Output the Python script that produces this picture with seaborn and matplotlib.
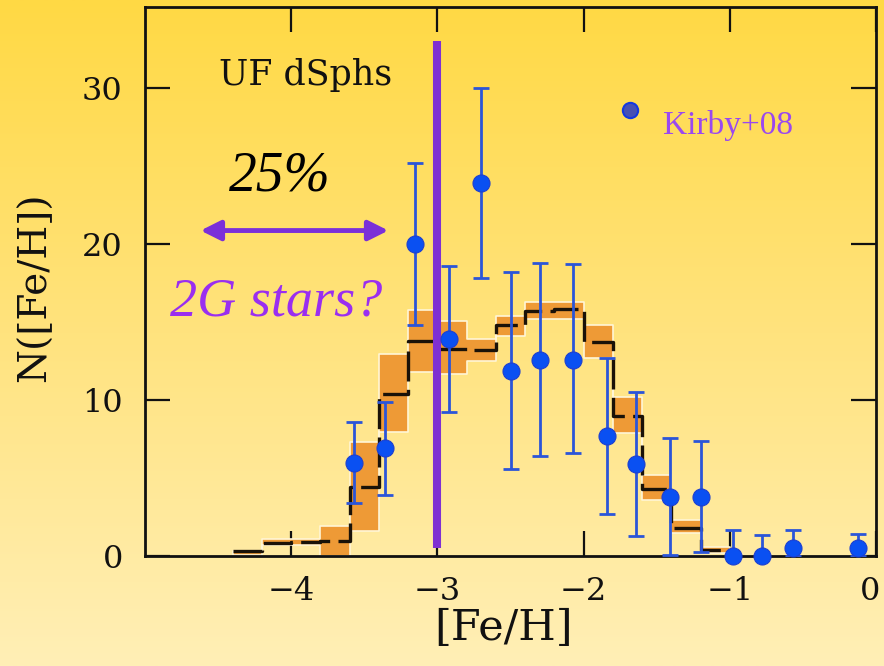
import numpy as np
import matplotlib
matplotlib.use("Agg")
import matplotlib.pyplot as plt
import seaborn as sns
from matplotlib.lines import Line2D
from matplotlib.legend_handler import HandlerLine2D
from matplotlib.colors import LinearSegmentedColormap
from matplotlib.transforms import ScaledTranslation

# Model metallicity distribution: 0.2-dex bins (left edges), median and spread
bin_left = [-4.4, -4.2, -4.0, -3.8, -3.6, -3.4, -3.2, -3.0, -2.8,
            -2.6, -2.4, -2.2, -2.0, -1.8, -1.6, -1.4, -1.2]
model_median = [0.3, 0.85, 0.9, 1.0, 4.4, 10.4, 13.8, 13.3, 13.2,
                14.8, 15.7, 15.85, 13.7, 9.0, 4.3, 1.8, 0.4]
model_low = [0.1, 0.7, 0.7, 0.0, 1.6, 7.95, 11.8, 11.65, 12.5,
             14.1, 15.2, 15.2, 12.7, 7.9, 3.6, 1.5, 0.18]
model_high = [0.35, 1.07, 1.07, 1.9, 7.3, 12.95, 15.8, 15.05, 13.9,
              15.4, 16.3, 16.3, 14.8, 10.2, 5.2, 2.3, 0.56]
bin_width = 0.2

# Observed ultra-faint dSph stars (Kirby+08)
obs_feh = [-3.57, -3.36, -3.15, -2.92, -2.70, -2.50, -2.30, -2.07,
           -1.84, -1.64, -1.41, -1.20, -0.98, -0.78, -0.57, -0.12]
obs_n = [6.0, 6.9, 20.0, 13.9, 23.9, 11.85, 12.6, 12.6,
         7.7, 5.9, 3.8, 3.8, 0.0, 0.0, 0.5, 0.55]
obs_upper = [8.6, 9.9, 25.2, 18.6, 30.0, 18.2, 18.8, 18.7,
             12.7, 10.5, 7.55, 7.35, 1.65, 1.35, 1.7, 1.4]
obs_lower = [3.4, 3.9, 14.8, 9.25, 17.85, 5.6, 6.4, 6.6,
             2.7, 1.3, 0.1, 0.25, 0.0, 0.0, 0.0, 0.0]

# Metallicity threshold and the arrow marking the metal-poor tail
feh_cut = -3.0
cut_span = (0.55, 33.0)
arrow_from, arrow_to, arrow_level = -4.62, -3.335, 20.87

x_ticks = [-4, -3, -2, -1, 0]
x_ticklabels = ["\u22124", "\u22123", "\u22122", "\u22121", "0"]
y_ticks = [0, 10, 20, 30]


class RaisedMarkerHandler(HandlerLine2D):
    """Legend handler that lifts the marker a little above the text centre."""

    def create_artists(self, legend, orig_handle, xdescent, ydescent,
                       width, height, fontsize, trans):
        artists = super().create_artists(legend, orig_handle, xdescent,
                                         ydescent, width, height, fontsize,
                                         trans)
        for a in artists:
            a.set_ydata(np.asarray(a.get_ydata()) + 0.5 * height)
        return artists


sns.set_theme(style="ticks")
plt.rcParams["font.family"] = ["DejaVu Serif"]
plt.rcParams["mathtext.default"] = "regular"

fig = plt.figure(figsize=(8.84, 6.66), dpi=100)

# soft yellow vertical gradient behind everything
bg = fig.add_axes([0, 0, 1, 1], zorder=-10)
grad = np.linspace(0, 1, 256).reshape(-1, 1)
cmap = LinearSegmentedColormap.from_list("bg", ["#FFD944", "#FFE37E", "#FFEFB6"])
bg.imshow(grad, aspect="auto", cmap=cmap, extent=[0, 1, 0, 1], origin="upper")
bg.set_axis_off()

ax = fig.add_axes([0.164, 0.165, 0.827, 0.8245])
ax.set_facecolor("none")

# model band and median step line
edges = bin_left + [bin_left[-1] + bin_width]
low_ext = model_low + [model_low[-1]]
high_ext = model_high + [model_high[-1]]
med_ext = model_median + [model_median[-1]]
ax.fill_between(edges, low_ext, high_ext, step="post", facecolor="#EE9A36",
                edgecolor="#FFF6D6", linewidth=1.2, zorder=2)
sns.lineplot(x=edges, y=med_ext, drawstyle="steps-post", estimator=None,
             color="#1a1208", linewidth=2.4, dashes=False, ax=ax, zorder=2.5)
ax.lines[-1].set_linestyle((0, (9, 2.5)))

# threshold line
ax.vlines(feh_cut, cut_span[0], cut_span[1], color="#7F30D2", linewidth=5.8, zorder=3)

# observed counts with asymmetric errors
n = np.array(obs_n)
yerr = [n - np.array(obs_lower), np.array(obs_upper) - n]
ax.errorbar(obs_feh, obs_n, yerr=yerr, fmt="none", ecolor="#2B55D8",
            elinewidth=2.0, capsize=6, capthick=2.0, zorder=4)
sns.scatterplot(x=obs_feh, y=obs_n, s=150, color="#0A50F2", edgecolor="#1D3FD0",
                linewidth=0.8, ax=ax, zorder=5, clip_on=False)

ax.set_xlim(-5.0, 0.0)
ax.set_ylim(0, 35.2)
ax.set_xticks(x_ticks)
ax.set_xticklabels(x_ticklabels)
ax.set_yticks(y_ticks)
ax.tick_params(direction="in", length=18, width=1.6, top=True, right=True,
               labelsize=23, colors="#111111")
ax.tick_params(axis="x", pad=14)
ax.tick_params(axis="y", pad=16)
for s in ax.spines.values():
    s.set_linewidth(2.0)
    s.set_color("#111111")

# keep the "0" label inside the canvas
last = ax.get_xticklabels()[-1]
last.set_transform(last.get_transform() +
                   ScaledTranslation(-4 / 72, 0, fig.dpi_scale_trans))

ax.set_xlabel("[Fe/H]", fontsize=31, color="#111111")
ax.set_ylabel("N([Fe/H])", fontsize=28, color="#111111")
ax.xaxis.set_label_coords(0.49, -0.092)
ax.yaxis.set_label_coords(-0.125, 0.49)

# annotations
ax.text(0.101, 0.876, "UF dSphs", transform=ax.transAxes, fontsize=25,
        ha="left", va="center", color="#111111")
ax.text(0.185, 0.691, "25%", transform=ax.transAxes, fontsize=40,
        family="Liberation Serif", style="italic", ha="center", va="center",
        color="black")
ax.text(0.179, 0.463, "2G stars?", transform=ax.transAxes, fontsize=39,
        family="Liberation Serif", style="italic", ha="center", va="center",
        color="#9A2EF0")
ax.annotate("", xy=(arrow_to, arrow_level), xytext=(arrow_from, arrow_level),
            arrowprops=dict(arrowstyle="<|-|>,head_length=0.8,head_width=0.4",
                            color="#7B30D8", lw=3.5, mutation_scale=15,
                            shrinkA=0, shrinkB=0), zorder=3)

handle = Line2D([], [], marker="o", linestyle="none", markersize=11,
                markerfacecolor="#4650B4", markeredgecolor="#1438E0",
                markeredgewidth=1.5)
leg = ax.legend([handle], ["Kirby+08"], loc="center left",
                bbox_to_anchor=(0.645, 0.785), frameon=False,
                handlelength=0.8, handletextpad=0.6, borderpad=0,
                borderaxespad=0,
                handler_map={Line2D: RaisedMarkerHandler()},
                prop={"family": "Liberation Serif", "size": 24})
for t in leg.get_texts():
    t.set_color("#9A48F0")

fig.savefig("out.png", dpi=100)
